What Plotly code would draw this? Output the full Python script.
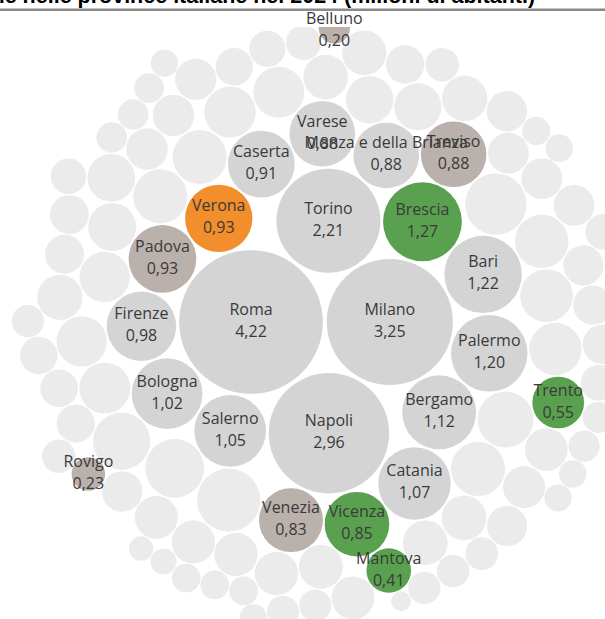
import math
import plotly.graph_objects as go

# ---------------- data (millions of inhabitants, 2024) ----------------
province = [
    "Roma", "Milano", "Napoli", "Torino", "Brescia", "Bari", "Palermo", "Bergamo",
    "Catania", "Salerno", "Bologna", "Firenze", "Padova", "Verona", "Caserta",
    "Varese", "Monza e della Brianza", "Treviso", "Vicenza", "Venezia", "Genova",
    "Lecce", "Modena", "Cosenza", "Perugia", "Messina", "Foggia", "Como", "Cuneo",
    "Latina", "Taranto", "Trento", "Bolzano", "Pavia", "Reggio Emilia",
    "Reggio Calabria", "Udine", "Sassari", "Frosinone", "Ancona", "Parma",
    "Cagliari", "Pisa", "Agrigento", "Trapani", "Mantova", "Alessandria",
    "Avellino", "Forlì-Cesena", "Ravenna", "Siracusa", "Lucca",
    "Barletta-Andria-Trani", "Brindisi", "Chieti", "Novara", "Pesaro e Urbino",
    "Cremona", "Potenza", "Catanzaro", "Rimini", "Ferrara", "Arezzo", "Lecco",
    "Sud Sardegna", "Livorno", "Ragusa", "Pescara", "Pordenone", "Viterbo",
    "Macerata", "Teramo", "Pistoia", "L'Aquila", "Piacenza", "Savona",
    "Benevento", "Siena", "Prato", "Caltanissetta", "Trieste", "Rovigo", "Lodi",
    "Terni", "Grosseto", "La Spezia", "Campobasso", "Imperia", "Asti",
    "Belluno", "Ascoli Piceno", "Nuoro", "Matera", "Massa-Carrara", "Sondrio",
    "Biella", "Fermo", "Vercelli", "Crotone", "Enna", "Verbano-Cusio-Ossola",
    "Rieti", "Vibo Valentia", "Oristano", "Gorizia", "Valle d'Aosta", "Isernia",
]
popolazione = [
    4.217, 3.250, 2.959, 2.208, 1.268, 1.223, 1.195, 1.116,
    1.072, 1.048, 1.021, 0.985, 0.934, 0.926, 0.908,
    0.881, 0.878, 0.876, 0.852, 0.834, 0.816,
    0.769, 0.703, 0.669, 0.637, 0.600, 0.598, 0.597, 0.583,
    0.567, 0.560, 0.546, 0.536, 0.534, 0.530,
    0.517, 0.516, 0.470, 0.465, 0.462, 0.455,
    0.420, 0.417, 0.410, 0.407, 0.406, 0.405,
    0.400, 0.393, 0.386, 0.384, 0.381,
    0.378, 0.376, 0.372, 0.362, 0.352,
    0.351, 0.347, 0.342, 0.340, 0.339, 0.334, 0.333,
    0.332, 0.328, 0.316, 0.312, 0.311, 0.308,
    0.302, 0.298, 0.290, 0.287, 0.285, 0.267,
    0.265, 0.263, 0.259, 0.250, 0.2295, 0.2290, 0.2285,
    0.218, 0.215, 0.214, 0.213, 0.209, 0.207,
    0.2000, 0.1995, 0.198, 0.191, 0.190, 0.180,
    0.169, 0.167, 0.166, 0.164, 0.155, 0.154,
    0.151, 0.150, 0.150, 0.138, 0.122, 0.080,
]
evidenziata = ["Verona"]
confinanti = ["Brescia", "Trento", "Vicenza", "Mantova"]
veneto = ["Padova", "Treviso", "Venezia", "Rovigo", "Belluno"]
TOP_N = 20
titolo = "Popolazione nelle province italiane nel 2024 (milioni di abitanti)"

# ---------------- styles ----------------
C_LIGHT = "#ebebeb"
C_MID = "#d4d4d4"
C_ORANGE = "#f28e2b"
C_GREEN = "#59a14f"
C_TAUPE = "#bab0ac"
C_TEXT = "#3a3a3a"
K = 36.0          # px of packing radius per sqrt(million)
FILL = 0.972      # drawn radius / packing radius
W, H = 605, 619
PANE_TOP = 27     # px: top of the bubble pane (below the title band)
LINE_GAP = 11     # px: half distance between name line and value line


# ---------------- packed bubble layout (front-chain packing) ----------------
class Node:
    def __init__(self, c):
        self.c = c
        self.next = None
        self.prev = None


def place(b, a, c):
    dx = b["x"] - a["x"]
    dy = b["y"] - a["y"]
    d2 = dx * dx + dy * dy
    if d2:
        a2 = (a["r"] + c["r"]) ** 2
        b2 = (b["r"] + c["r"]) ** 2
        if a2 > b2:
            x = (d2 + b2 - a2) / (2 * d2)
            y = math.sqrt(max(0.0, b2 / d2 - x * x))
            c["x"] = b["x"] - x * dx - y * dy
            c["y"] = b["y"] - x * dy + y * dx
        else:
            x = (d2 + a2 - b2) / (2 * d2)
            y = math.sqrt(max(0.0, a2 / d2 - x * x))
            c["x"] = a["x"] + x * dx - y * dy
            c["y"] = a["y"] + x * dy + y * dx
    else:
        c["x"] = a["x"] + c["r"]
        c["y"] = a["y"]


def intersects(a, b):
    dr = a["r"] + b["r"] - 1e-6
    dx = b["x"] - a["x"]
    dy = b["y"] - a["y"]
    return dr > 0 and dr * dr > dx * dx + dy * dy


def dist2(node):
    return node.c["x"] ** 2 + node.c["y"] ** 2


def pack(circles):
    n = len(circles)
    a = circles[0]
    b = circles[1]
    a["x"], a["y"] = -a["r"], 0.0
    b["x"], b["y"] = b["r"], 0.0
    c = circles[2]
    place(b, a, c)
    a, b, c = Node(a), Node(b), Node(c)
    a.next = b
    c.prev = b
    b.next = c
    a.prev = c
    c.next = a
    b.prev = a
    i = 3
    while i < n:
        cc = circles[i]
        place(a.c, b.c, cc)
        c = Node(cc)
        j = b.next
        k = a.prev
        sj = b.c["r"]
        sk = a.c["r"]
        restart = False
        while True:
            if sj <= sk:
                if intersects(j.c, c.c):
                    b = j
                    a.next = b
                    b.prev = a
                    restart = True
                    break
                sj += j.c["r"]
                j = j.next
            else:
                if intersects(k.c, c.c):
                    a = k
                    a.next = b
                    b.prev = a
                    restart = True
                    break
                sk += k.c["r"]
                k = k.prev
            if j is k.next:
                break
        if restart:
            continue
        c.prev = a
        c.next = b
        b.prev = c
        a.next = c
        best = c
        bd = dist2(c)
        node = c.next
        while node is not c:
            dd = dist2(node)
            if dd < bd:
                best, bd = node, dd
            node = node.next
        b = best
        a = best.prev
        i += 1


order = sorted(range(len(province)), key=lambda i: -popolazione[i])
circles = [{"i": i, "r": K * math.sqrt(popolazione[i])} for i in order]
pack(circles)
pos = {c["i"]: (c["x"], c["y"]) for c in circles}


def colore(i):
    name = province[i]
    if name in evidenziata:
        return C_ORANGE
    if name in confinanti:
        return C_GREEN
    if name in veneto:
        return C_TAUPE
    if order.index(i) < TOP_N:
        return C_MID
    return C_LIGHT


light = [i for i in order if colore(i) == C_LIGHT]
named = [i for i in order if colore(i) != C_LIGHT]

# view window: largest bubble where the reference shows it (1 data unit = 1 px)
x0 = pos[order[0]][0] - 251
y0 = pos[order[0]][1] - 322

fig = go.Figure()
# bubbles: clipped to the pane (axes x / y)
for group in (light, named):
    fig.add_trace(go.Scatter(
        x=[pos[i][0] for i in group],
        y=[pos[i][1] for i in group],
        xaxis="x", yaxis="y",
        mode="markers",
        marker=dict(
            size=[2 * FILL * K * math.sqrt(popolazione[i]) for i in group],
            color=[colore(i) for i in group],
            opacity=1,
            line=dict(width=0),
        ),
        cliponaxis=True,
        hoverinfo="skip",
        showlegend=False,
    ))

# labels on a full-height transparent overlay (axes x2 / y2, same px mapping)
label_y = [max(pos[i][1], y0 + PANE_TOP + 4) for i in named]
fig.add_trace(go.Scatter(
    x=[pos[i][0] for i in named],
    y=[yy - LINE_GAP for yy in label_y],
    xaxis="x2", yaxis="y2",
    mode="text",
    text=[province[i] for i in named],
    textposition="middle center",
    textfont=dict(family="Open Sans", size=16, color=C_TEXT),
    cliponaxis=False,
    hoverinfo="skip",
    showlegend=False,
))
fig.add_trace(go.Scatter(
    x=[pos[i][0] for i in named],
    y=[yy + LINE_GAP for yy in label_y],
    xaxis="x2", yaxis="y2",
    mode="text",
    text=[f"{popolazione[i]:.2f}".replace(".", ",") for i in named],
    textposition="middle center",
    textfont=dict(family="Open Sans", size=16, color=C_TEXT),
    cliponaxis=False,
    hoverinfo="skip",
    showlegend=False,
))

fig.update_layout(
    width=W, height=H,
    margin=dict(l=0, r=0, t=0, b=0),
    paper_bgcolor="white", plot_bgcolor="rgba(0,0,0,0)",
    xaxis=dict(range=[x0, x0 + W], domain=[0, 1], anchor="y",
               visible=False, fixedrange=True),
    yaxis=dict(range=[y0 + H, y0 + PANE_TOP], domain=[0, 1 - PANE_TOP / H],
               anchor="x", visible=False, fixedrange=True),
    xaxis2=dict(range=[x0, x0 + W], domain=[0, 1], anchor="y2",
                visible=False, fixedrange=True),
    yaxis2=dict(range=[y0 + H, y0], domain=[0, 1], anchor="x2",
                visible=False, fixedrange=True),
    shapes=[dict(type="line", xref="paper", yref="paper",
                 x0=0, x1=1, y0=1 - 9.7 / H, y1=1 - 9.7 / H,
                 line=dict(color="#8a8a8a", width=2.5))],
    annotations=[dict(
        text=f"<b>{titolo}</b>",
        xref="paper", yref="paper", x=537 / W, y=1 - 10 / H,
        xanchor="right", yanchor="bottom", showarrow=False,
        font=dict(family="Liberation Sans", size=21.5, color="#000000"),
    )],
)

fig.write_html("out.html", config={"displayModeBar": False},
               post_script="document.body.style.margin='0';")
